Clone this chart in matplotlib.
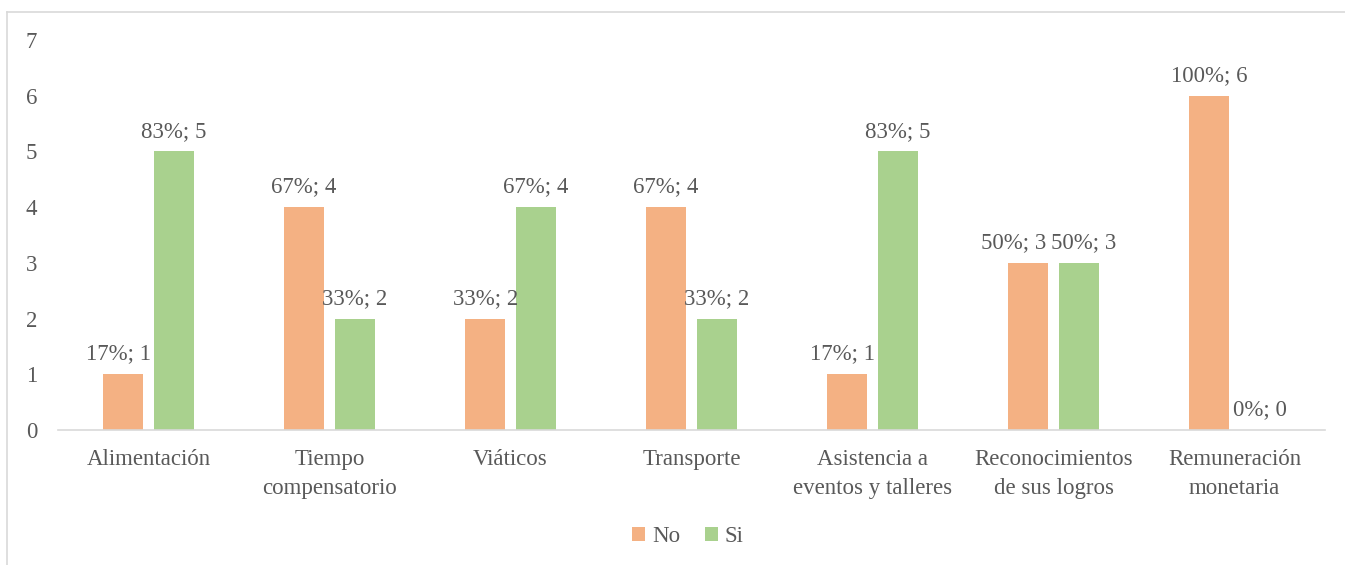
import numpy as np
import matplotlib.pyplot as plt
from matplotlib.lines import Line2D

categories = ["Alimentación", "Tiempo\ncompensatorio", "Viáticos", "Transporte",
              "Asistencia a\neventos y talleres", "Reconocimientos\nde sus logros",
              "Remuneración\nmonetaria"]
no_vals = [1, 4, 2, 4, 1, 3, 6]
si_vals = [5, 2, 4, 2, 5, 3, 0]
no_pct = ["17%", "67%", "33%", "67%", "17%", "50%", "100%"]
si_pct = ["83%", "33%", "67%", "33%", "83%", "50%", "0%"]

plt.rcParams['font.family'] = ['Liberation Serif', 'DejaVu Serif']
text_col = "#595959"
c_no = "#F4B183"
c_si = "#A9D18E"
fs = 16.5

W, H = 1345, 565
fig = plt.figure(figsize=(W / 100, H / 100), dpi=100)
ax = fig.add_axes([58 / W, (H - 430) / H, (1325 - 58) / W, (430 - 40) / H])

x = np.arange(len(categories))
bw = 0.22
off = 0.14
b1 = ax.bar(x - off, no_vals, bw, color=c_no, label="No")
b2 = ax.bar(x + off, si_vals, bw, color=c_si, label="Si")

# labels that would collide get nudged sideways (pixels), like the original
nudge_no = [-5, 0, 0, 0, -5, -15, 0]
nudge_si = [0, 0, 0, 0, 0, 5, 0]
for bars, vals, pcts, nudge in ((b1, no_vals, no_pct, nudge_no), (b2, si_vals, si_pct, nudge_si)):
    for b, v, p, dx in zip(bars, vals, pcts, nudge):
        ax.annotate(f"{p}; {v}", (b.get_x() + b.get_width() / 2, v),
                    xytext=(dx * 0.72, 7), textcoords="offset points",
                    ha="center", va="bottom", fontsize=fs, color=text_col)

ax.set_xlim(-0.5, len(categories) - 0.5)
ax.set_ylim(0, 7)
ax.set_yticks(range(0, 8))
ax.set_xticks(x)
ax.set_xticklabels(categories, linespacing=1.45)
ax.tick_params(axis="both", length=0, labelsize=fs, colors=text_col)
ax.tick_params(axis="y", pad=15)
ax.tick_params(axis="x", pad=14)
for s in ("top", "right", "left"):
    ax.spines[s].set_visible(False)
ax.spines["bottom"].set_color("#D9D9D9")
ax.spines["bottom"].set_linewidth(1.2)

leg = fig.legend(handles=[b1, b2], labels=["No", "Si"], loc="center",
                 bbox_to_anchor=(688 / W, 1 - 537 / H), ncol=2, frameon=False,
                 fontsize=fs, handlelength=0.55, handleheight=0.55,
                 handletextpad=0.3, columnspacing=1.1)
for t in leg.get_texts():
    t.set_color(text_col)

# outer chart frame
fig.add_artist(Line2D([7 / W, 1.0], [1 - 11.5 / H, 1 - 11.5 / H], transform=fig.transFigure,
                      color="#D9D9D9", lw=1.2))
fig.add_artist(Line2D([7 / W, 7 / W], [0, 1 - 11.5 / H], transform=fig.transFigure,
                      color="#D9D9D9", lw=1.2))

fig.savefig("out.png", dpi=100)
